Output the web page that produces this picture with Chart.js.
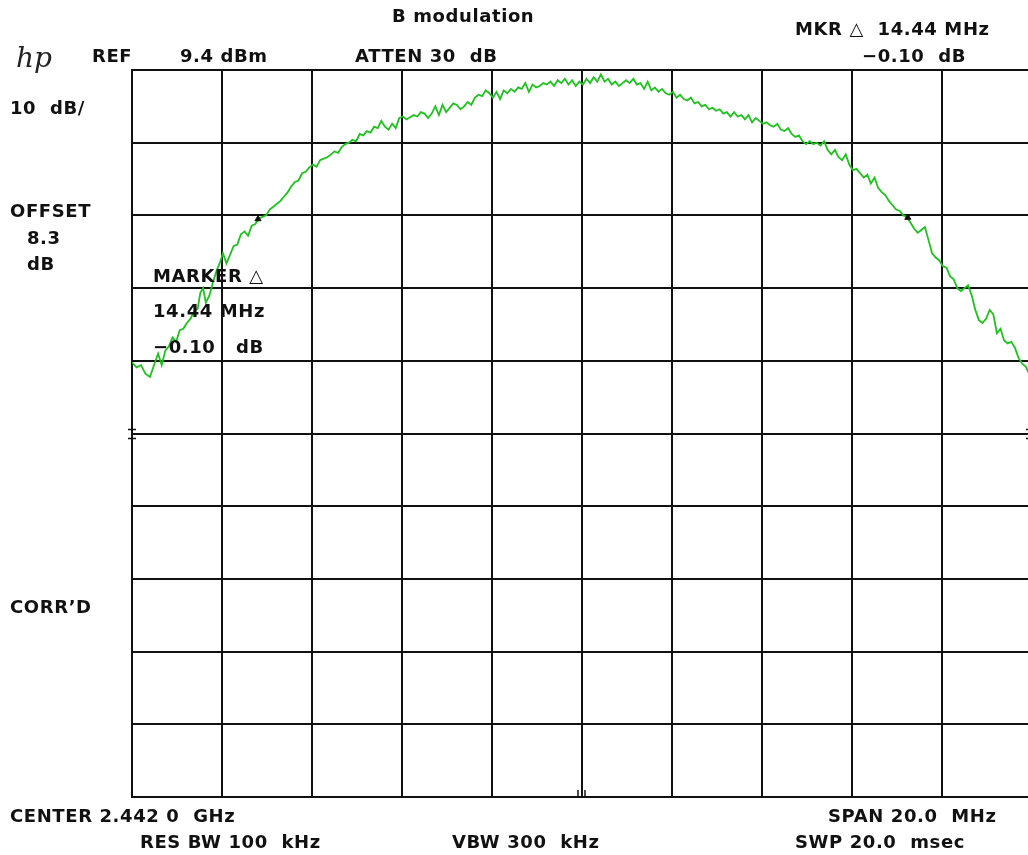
<!DOCTYPE html>
<html>
<head>
<meta charset="utf-8">
<script src="https://cdn.jsdelivr.net/npm/chart.js@4.4.1/dist/chart.umd.min.js"></script>
<style>
  html, body { margin:0; padding:0; background:#fff; width:1028px; height:855px; overflow:hidden; }
  #wrap { position:absolute; left:0; top:0; width:1040px; height:855px; }
  .t { position:absolute; font-family:"DejaVu Sans", sans-serif; font-weight:bold; font-size:18px; letter-spacing:0.6px; line-height:20px; color:#111; white-space:pre; }
  .logo { position:absolute; left:16px; top:42px; font-family:"DejaVu Serif", serif; font-style:italic; font-size:28px; color:#222; line-height:32px; }
</style>
</head>
<body>
<div id="wrap"><canvas id="c" width="1040" height="855"></canvas></div>

<div class="logo">hp</div>
<div class="t" style="left:392px;top:6px;">B modulation</div>
<div class="t" style="left:795px;top:19px;">MKR △  14.44 MHz</div>
<div class="t" style="left:92px;top:46px;">REF</div>
<div class="t" style="left:180px;top:46px;">9.4 dBm</div>
<div class="t" style="left:355px;top:46px;">ATTEN 30  dB</div>
<div class="t" style="left:862px;top:46px;">−0.10  dB</div>
<div class="t" style="left:10px;top:98px;">10  dB/</div>
<div class="t" style="left:10px;top:201px;">OFFSET</div>
<div class="t" style="left:27px;top:228px;">8.3</div>
<div class="t" style="left:27px;top:254px;">dB</div>
<div class="t" style="left:153px;top:266px;">MARKER △</div>
<div class="t" style="left:153px;top:301px;">14.44 MHz</div>
<div class="t" style="left:153px;top:337px;">−0.10   dB</div>
<div class="t" style="left:10px;top:597px;">CORR’D</div>
<div class="t" style="left:10px;top:806px;">CENTER 2.442 0  GHz</div>
<div class="t" style="left:828px;top:806px;">SPAN 20.0  MHz</div>
<div class="t" style="left:140px;top:832px;">RES BW 100  kHz</div>
<div class="t" style="left:452px;top:832px;">VBW 300  kHz</div>
<div class="t" style="left:795px;top:832px;">SWP 20.0  msec</div>

<script>
// Frequency axis (MHz): center 2442.0, span 20 MHz
const xTicks = [2432,2434,2436,2438,2440,2442,2444,2446,2448,2450,2452];
// Amplitude axis (dBm): ref 9.4 dBm, 10 dB/div
const yTicks = [9.4,-0.6,-10.6,-20.6,-30.6,-40.6,-50.6,-60.6,-70.6,-80.6,-90.6];

const traceFreq = [
2432.00,2432.10,2432.20,2432.30,2432.40,2432.50,2432.58,2432.66,2432.74,2432.82,2432.90,2432.98,
2433.06,2433.14,2433.22,2433.30,2433.38,2433.46,2433.52,2433.58,2433.64,2433.72,2433.80,2433.88,2433.96,
2434.02,2434.10,2434.18,2434.26,2434.34,2434.42,2434.50,2434.58,2434.66,2434.74,2434.82,2434.90,2434.98,
2435.06,2435.14,2435.22,2435.30,2435.38,2435.46,2435.54,2435.62,2435.70,2435.78,2435.86,2435.94,
2436.02,2436.10,2436.18,2436.26,2436.34,2436.42,2436.50,2436.58,2436.66,2436.74,2436.82,2436.90,2436.98,
2437.06,2437.14,2437.22,2437.30,2437.38,2437.46,2437.54,2437.62,2437.70,2437.78,2437.86,2437.94,
2438.02,2438.10,2438.18,2438.26,2438.34,2438.42,2438.50,2438.58,2438.66,2438.74,2438.82,2438.90,2438.98,
2439.06,2439.14,2439.22,2439.30,2439.38,2439.46,2439.54,2439.62,2439.70,2439.78,2439.86,2439.94,
2440.02,2440.10,2440.18,2440.26,2440.34,2440.42,2440.50,2440.58,2440.66,2440.74,2440.82,2440.90,2440.98,
2441.06,2441.14,2441.22,2441.30,2441.38,2441.46,2441.54,2441.62,2441.70,2441.78,2441.86,2441.94,
2442.02,2442.10,2442.18,2442.26,2442.34,2442.42,2442.50,2442.58,2442.66,2442.74,2442.82,2442.90,2442.98,
2443.06,2443.14,2443.22,2443.30,2443.38,2443.46,2443.54,2443.62,2443.70,2443.78,2443.86,2443.94,
2444.02,2444.10,2444.18,2444.26,2444.34,2444.42,2444.50,2444.58,2444.66,2444.74,2444.82,2444.90,2444.98,
2445.06,2445.14,2445.22,2445.30,2445.38,2445.46,2445.54,2445.62,2445.70,2445.78,2445.86,2445.94,
2446.02,2446.10,2446.18,2446.26,2446.34,2446.42,2446.50,2446.58,2446.66,2446.74,2446.82,2446.90,2446.98,
2447.06,2447.14,2447.22,2447.30,2447.38,2447.46,2447.54,2447.62,2447.70,2447.78,2447.86,2447.94,
2448.02,2448.10,2448.18,2448.26,2448.34,2448.42,2448.50,2448.58,2448.66,2448.74,2448.82,2448.90,2448.98,
2449.06,2449.14,2449.22,2449.30,2449.38,2449.46,2449.54,2449.62,2449.70,2449.78,2449.86,2449.94,
2450.02,2450.10,2450.18,2450.26,2450.34,2450.42,2450.50,2450.58,2450.66,2450.74,2450.82,2450.90,2450.98,
2451.06,2451.14,2451.22,2451.30,2451.38,2451.46,2451.54,2451.62,2451.70,2451.78,2451.86,2451.94,2452.00
];
const traceDbm = [
-30.8,-31.5,-31.2,-32.4,-32.8,-31.0,-29.6,-31.2,-29.2,-28.6,-27.4,-28.0,
-26.4,-26.2,-25.4,-24.8,-23.8,-23.4,-21.2,-20.6,-22.6,-21.6,-19.8,-18.2,-17.0,
-15.8,-17.2,-16.0,-14.8,-14.6,-13.2,-12.8,-13.4,-12.0,-11.8,-11.0,-10.8,-10.6,
-9.8,-9.4,-9.0,-8.6,-8.0,-7.4,-6.6,-6.0,-5.8,-4.8,-4.6,-4.0,
-3.6,-3.9,-3.0,-2.8,-2.6,-2.2,-1.8,-2.0,-1.2,-0.8,-0.6,-0.2,-0.4,
0.6,0.4,1.0,0.8,1.6,1.4,2.4,1.6,1.2,2.0,1.4,2.8,
3.0,2.6,2.9,3.2,3.0,3.6,3.4,2.8,3.4,4.4,3.2,4.6,3.6,
4.2,4.8,4.6,4.0,4.4,5.0,4.6,5.6,6.0,5.8,6.6,6.2,
5.6,6.4,5.4,6.6,6.2,6.8,6.4,7.0,6.8,7.6,6.4,7.4,7.0,
7.2,7.6,7.4,7.8,7.2,8.0,7.6,8.2,7.4,8.0,7.2,7.8,
7.4,8.2,7.6,8.4,7.8,8.8,7.8,8.2,7.4,7.8,7.2,7.6,8.0,
7.6,8.2,7.4,7.6,6.8,7.8,6.6,7.0,6.4,6.8,6.2,6.0,
6.4,5.6,6.0,5.4,5.2,5.6,4.8,5.0,4.4,4.6,4.0,4.2,3.8,
4.0,3.4,3.6,3.0,3.6,3.0,3.2,2.6,3.2,2.2,2.8,2.4,
2.0,2.2,1.8,1.6,2.0,1.2,1.0,1.4,0.6,0.2,0.4,-0.4,-0.8,
-0.4,-0.8,-0.6,-1.0,-0.4,-1.6,-2.2,-1.6,-2.6,-3.0,-2.2,-3.6,
-4.4,-4.2,-4.8,-5.4,-5.0,-6.2,-5.4,-6.8,-7.4,-7.8,-8.6,-9.2,-9.8,
-10.0,-10.6,-10.8,-11.6,-12.4,-13.0,-12.6,-12.2,-14.0,-15.8,-16.4,-16.8,
-17.6,-17.8,-19.0,-19.4,-20.6,-21.0,-20.6,-20.2,-21.6,-23.6,-25.0,-25.4,-24.8,
-23.6,-24.2,-26.8,-26.2,-27.8,-28.2,-28.0,-28.8,-30.2,-31.0,-31.4,-32.4,-32.8
];

// Markers (delta 14.44 MHz)
const markerFreq = [2434.80, 2449.24];
const markerDbm = [-11.1, -10.9];

const tracePts = traceFreq.map((f,i)=>({x:f, y:traceDbm[i]}));
const markerPts = markerFreq.map((f,i)=>({x:f, y:markerDbm[i]}));

const decoPlugin = {
  id:'deco',
  afterDraw(chart){
    const {ctx, scales:{x,y}} = chart;
    ctx.save();
    ctx.strokeStyle = '#111';
    ctx.lineWidth = 1.5;
    const ym = y.getPixelForValue(-40.6);
    [ym-4, ym+5].forEach(yy=>{
      ctx.beginPath(); ctx.moveTo(x.left-4, yy); ctx.lineTo(x.left+4, yy); ctx.stroke();
      ctx.beginPath(); ctx.moveTo(x.right-6, yy); ctx.lineTo(x.right+2, yy); ctx.stroke();
    });
    const xc = x.getPixelForValue(2442);
    const yb = y.bottom;
    [xc-4, xc+3].forEach(xx=>{
      ctx.beginPath(); ctx.moveTo(xx, yb); ctx.lineTo(xx, yb-7); ctx.stroke();
    });
    ctx.restore();
  }
};

new Chart(document.getElementById('c'), {
  type:'line',
  data:{
    datasets:[
      {data:tracePts, borderColor:'#1cc41c', borderWidth:1.8, pointRadius:0, tension:0, fill:false, order:2},
      {data:markerPts, showLine:false, pointStyle:'triangle', pointRadius:3.5, pointBackgroundColor:'#111', pointBorderColor:'#111', order:1}
    ]
  },
  options:{
    responsive:false,
    animation:false,
    events:[],
    layout:{padding:{left:132, top:70, right:8, bottom:58}},
    plugins:{legend:{display:false}, tooltip:{enabled:false}},
    scales:{
      x:{type:'linear', min:2432, max:2452,
         afterBuildTicks(s){ s.ticks = xTicks.map(v=>({value:v})); },
         ticks:{display:false},
         grid:{color:'#111', lineWidth:2, drawTicks:false},
         border:{display:true, color:'#111', width:2}},
      y:{type:'linear', min:-90.6, max:9.4,
         afterBuildTicks(s){ s.ticks = yTicks.map(v=>({value:v})); },
         ticks:{display:false},
         grid:{color:'#111', lineWidth:2, drawTicks:false},
         border:{display:true, color:'#111', width:2}}
    }
  },
  plugins:[decoPlugin]
});
</script>
</body>
</html>
